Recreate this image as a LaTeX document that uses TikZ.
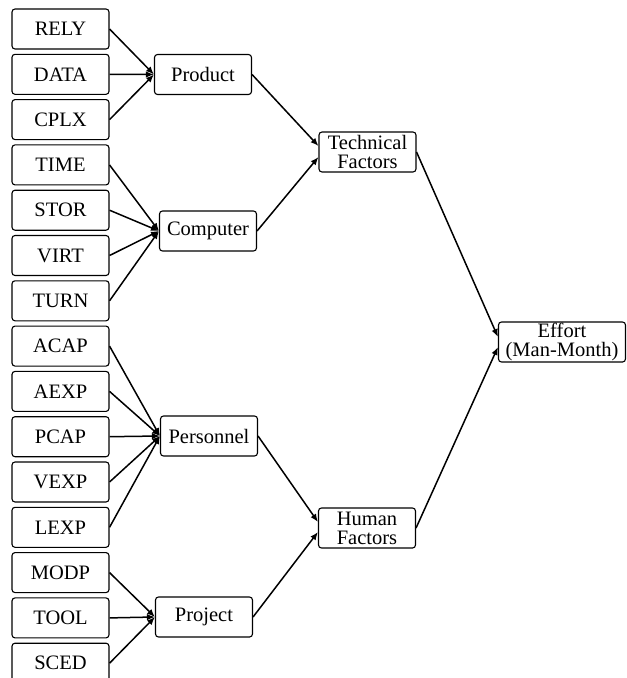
\documentclass[tikz,border=0pt]{standalone}
\usepackage{fontspec}
\setmainfont{Liberation Serif}
\usetikzlibrary{arrows.meta}

\begin{document}
\begin{tikzpicture}[x=1pt,y=-1pt,line width=1.5pt,>={Latex[length=8pt,width=6.5pt]},
  box/.style={draw,line width=1.1pt,rounded corners=3pt,minimum width=97pt,minimum height=40pt,
    inner sep=0.5pt,align=center,font=\fontsize{20.5}{19}\selectfont}]
\useasboundingbox (0,0) rectangle (627,678);

\node[box] (prod) at (203,74.5) {Product};
\node[box] (comp) at (208,231) {Computer};
\node[box] (pers) at (209,436) {Personnel};
\node[box] (proj) at (204,617) {Project};
\node[box] (tech) at (367.5,152) {Technical\\Factors};
\node[box] (human) at (367,528) {Human\\Factors};
\node[box,minimum width=127pt] (effort) at (562,342) {Effort\\(Man-Month)};

\foreach \name/\grp [count=\i from 0] in {RELY/prod,DATA/prod,CPLX/prod,
    TIME/comp,STOR/comp,VIRT/comp,TURN/comp,
    ACAP/pers,AEXP/pers,PCAP/pers,VEXP/pers,LEXP/pers,
    MODP/proj,TOOL/proj,SCED/proj}
{
  \node[box] (\name) at (60.5,{29+45.3*\i}) {\name};
  \draw[->] (\name.east) -- (\grp.west);
}

\draw[->] (prod.east) -- ([yshift=6pt]tech.west);
\draw[->] (comp.east) -- ([yshift=-5pt]tech.west);
\draw[->] (pers.east) -- ([yshift=6pt]human.west);
\draw[->] (proj.east) -- ([yshift=-4pt]human.west);
\draw[->] (tech.east) -- ([yshift=5pt]effort.west);
\draw[->] (human.east) -- ([yshift=-5pt]effort.west);

\end{tikzpicture}
\end{document}
